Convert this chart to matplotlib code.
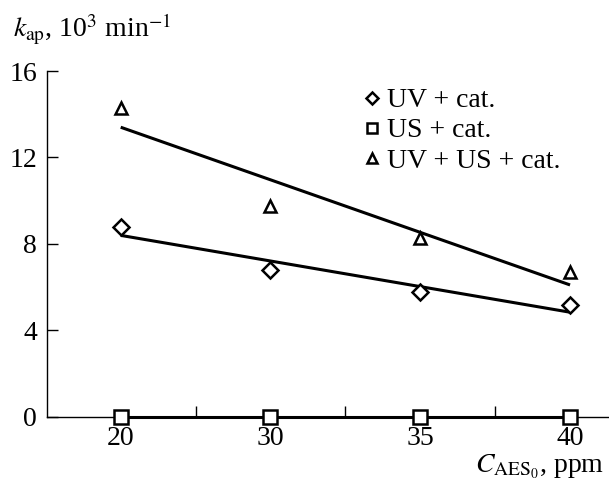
import numpy as np
import matplotlib
matplotlib.use("Agg")
import matplotlib.pyplot as plt
from matplotlib.ticker import FixedLocator

plt.rcParams['font.family'] = ['Liberation Serif', 'DejaVu Serif']
plt.rcParams['mathtext.fontset'] = 'stix'

# AES concentration, ppm (categorical axis)
conc = ['20', '30', '35', '40']
# apparent rate constants, 10^3 min^-1
uv_cat = [8.77, 6.77, 5.77, 5.15]
us_cat = [0.0, 0.0, 0.0, 0.0]
uv_us_cat = [14.3, 9.75, 8.27, 6.68]

series = [
    (uv_cat, 'D', 8, 'UV + cat.'),
    (us_cat, 's', 9.5, 'US + cat.'),
    (uv_us_cat, '^', 9, 'UV + US + cat.'),
]

FS = 20

fig = plt.figure(figsize=(6.09, 4.93), dpi=100)
ax = fig.add_axes([0.0767, 0.1548, 0.9233, 0.701])

xi = np.arange(len(conc))
for vals, mk, ms, lab in series:
    # straight-line fit through the points
    k, b = np.polyfit(xi, vals, 1)
    ax.plot(xi, k * xi + b, color='black', lw=2.2, zorder=2, clip_on=False,
            solid_capstyle='butt')
    ax.plot(xi, vals, ls='none', marker=mk, ms=ms, mfc='white',
            mec='black', mew=1.8, label=lab, zorder=3, clip_on=False)

ax.set_xlim(-0.494, 3.26)
ax.set_ylim(0, 16)
ax.set_xticks(xi)
ax.set_xticklabels(conc)
ax.xaxis.set_minor_locator(FixedLocator([0.5, 1.5, 2.5]))
ax.set_yticks([0, 4, 8, 12, 16])

ax.spines['top'].set_visible(False)
ax.spines['right'].set_visible(False)
for s in ['left', 'bottom']:
    ax.spines[s].set_linewidth(1.0)

ax.tick_params(axis='x', which='major', length=0, pad=7, labelsize=FS)
ax.tick_params(axis='x', which='minor', direction='in', length=8, width=1.0)
# short inward ticks on the y axis
ax.tick_params(axis='y', which='major', direction='in', length=8, width=1.0,
               pad=7, labelsize=FS)

ax.legend(loc='upper left', bbox_to_anchor=(0.565, 0.85), bbox_transform=fig.transFigure,
          frameon=False, fontsize=FS, handletextpad=0.05, labelspacing=0.17,
          borderpad=0, handlelength=1.0, markerscale=0.8)

fig.text(0.021, 0.925, r'$k_{\mathrm{ap}}$, 10$^{3}$ min$^{-1}$', fontsize=FS,
         ha='left', va='baseline')
fig.text(0.992, 0.04, r'$C_{\mathrm{AES}_{0}}$, ppm', fontsize=FS,
         ha='right', va='baseline')

fig.savefig('out.png', dpi=100)
